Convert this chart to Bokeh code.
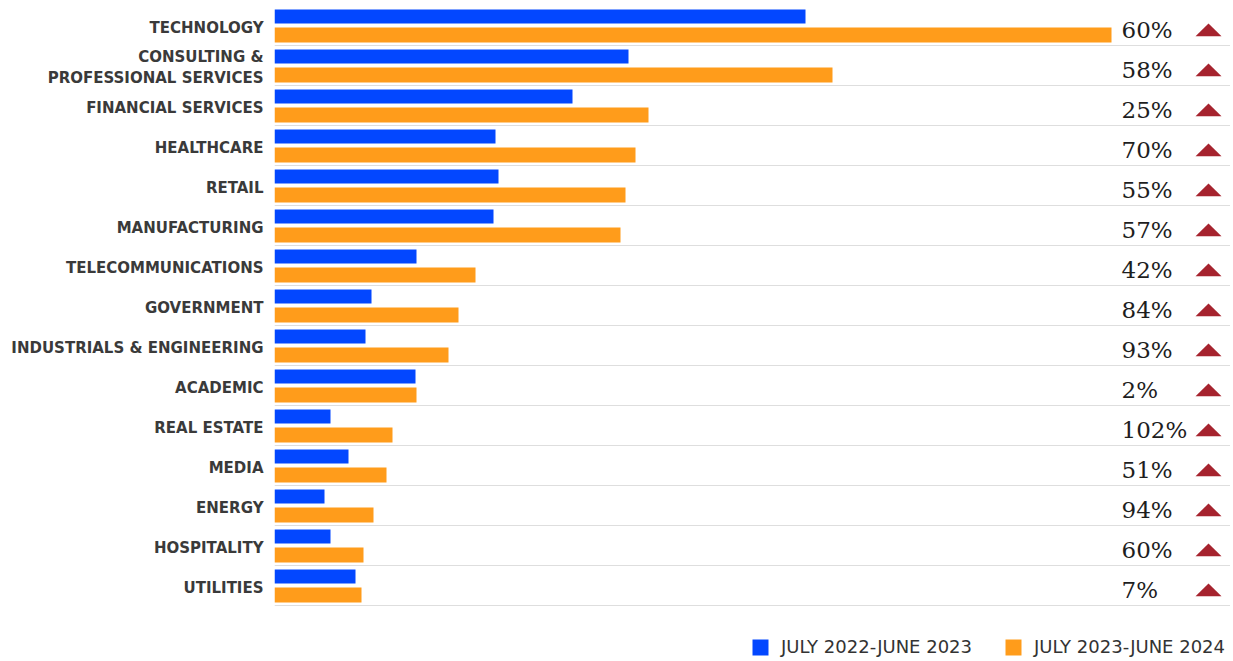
from bokeh.plotting import figure
from bokeh.models import Range1d, FixedTicker, Legend, LegendItem
from bokeh.core.properties import value
from bokeh.embed import file_html
from bokeh.resources import INLINE

categories = ["TECHNOLOGY", "CONSULTING &\nPROFESSIONAL SERVICES", "FINANCIAL SERVICES",
              "HEALTHCARE", "RETAIL", "MANUFACTURING", "TELECOMMUNICATIONS", "GOVERNMENT",
              "INDUSTRIALS & ENGINEERING", "ACADEMIC", "REAL ESTATE", "MEDIA", "ENERGY",
              "HOSPITALITY", "UTILITIES"]
period_2023 = [531, 354, 298, 221, 224, 219, 142, 97, 91, 141, 56, 74, 50, 56, 81]
period_2024 = [837, 558, 374, 361, 351, 346, 201, 184, 174, 142, 118, 112, 99, 89, 87]
growth_labels = ["60%", "58%", "25%", "70%", "55%", "57%", "42%", "84%", "93%", "2%",
                 "102%", "51%", "94%", "60%", "7%"]
series_names = ["JULY 2022-JUNE 2023", "JULY 2023-JUNE 2024"]

BLUE = "#0347ff"
ORANGE = "#ff9c1b"
RED = "#a6232e"

n = len(categories)
X_END = 956
rows = list(range(n))
ROW_PX = 40
H = 658
top = -0.675
bottom = top + H / ROW_PX

p = figure(width=274 + X_END, height=H, output_backend="svg", toolbar_location=None,
           x_range=Range1d(0, X_END), y_range=Range1d(bottom, top),
           min_border_left=274, min_border_right=0, min_border_top=0, min_border_bottom=0)
p.outline_line_color = None
p.xaxis.visible = False
p.xgrid.visible = False
p.ygrid.visible = False

ya = p.yaxis[0]
ya.ticker = FixedTicker(ticks=rows)
ya.major_label_overrides = {i: c for i, c in enumerate(categories)}
ya.axis_line_color = None
ya.major_tick_line_color = None
ya.minor_tick_line_color = None
ya.major_label_standoff = 5
ya.major_label_text_font = "DejaVu Sans"
ya.major_label_text_font_size = "15px"
ya.major_label_text_font_style = "bold"
ya.major_label_text_color = "#3a3a3a"

# separators
sep_y = [i + 0.45 for i in rows]
p.segment(x0=[0] * n, x1=[X_END] * n, y0=sep_y, y1=sep_y, line_color="#dedede", line_width=1.2)

r1 = p.hbar(y=[i - 0.275 for i in rows], right=period_2023, left=0, height=0.35,
            fill_color=BLUE, line_color=None)
r2 = p.hbar(y=[i + 0.1875 for i in rows], right=period_2024, left=0, height=0.37,
            fill_color=ORANGE, line_color=None)

# growth labels
p.text(x=[X_END * 0.886] * n, y=[i + 0.05 for i in rows], text=growth_labels,
       text_font=value("DejaVu Serif"), text_font_size="23px", text_color="#1e1e1e",
       text_baseline="middle", text_align="left")

# triangles
tx = X_END * 0.977
hw = 13
xs = [[tx - hw, tx + hw, tx] for _ in rows]
ys = [[i + 0.22, i + 0.22, i - 0.1] for i in rows]
p.patches(xs=xs, ys=ys, fill_color=RED, line_color=None)

legend = Legend(items=[LegendItem(label=series_names[0], renderers=[r1]),
                       LegendItem(label=series_names[1], renderers=[r2])],
                orientation="horizontal", location=(476, 1),
                label_text_font="DejaVu Sans", label_text_font_size="18px",
                label_text_color="#333333", glyph_width=20, glyph_height=20,
                spacing=31, label_standoff=11, border_line_color=None,
                background_fill_alpha=0, margin=0, padding=0)
p.add_layout(legend)

open("out.html", "w").write(file_html(p, INLINE))
